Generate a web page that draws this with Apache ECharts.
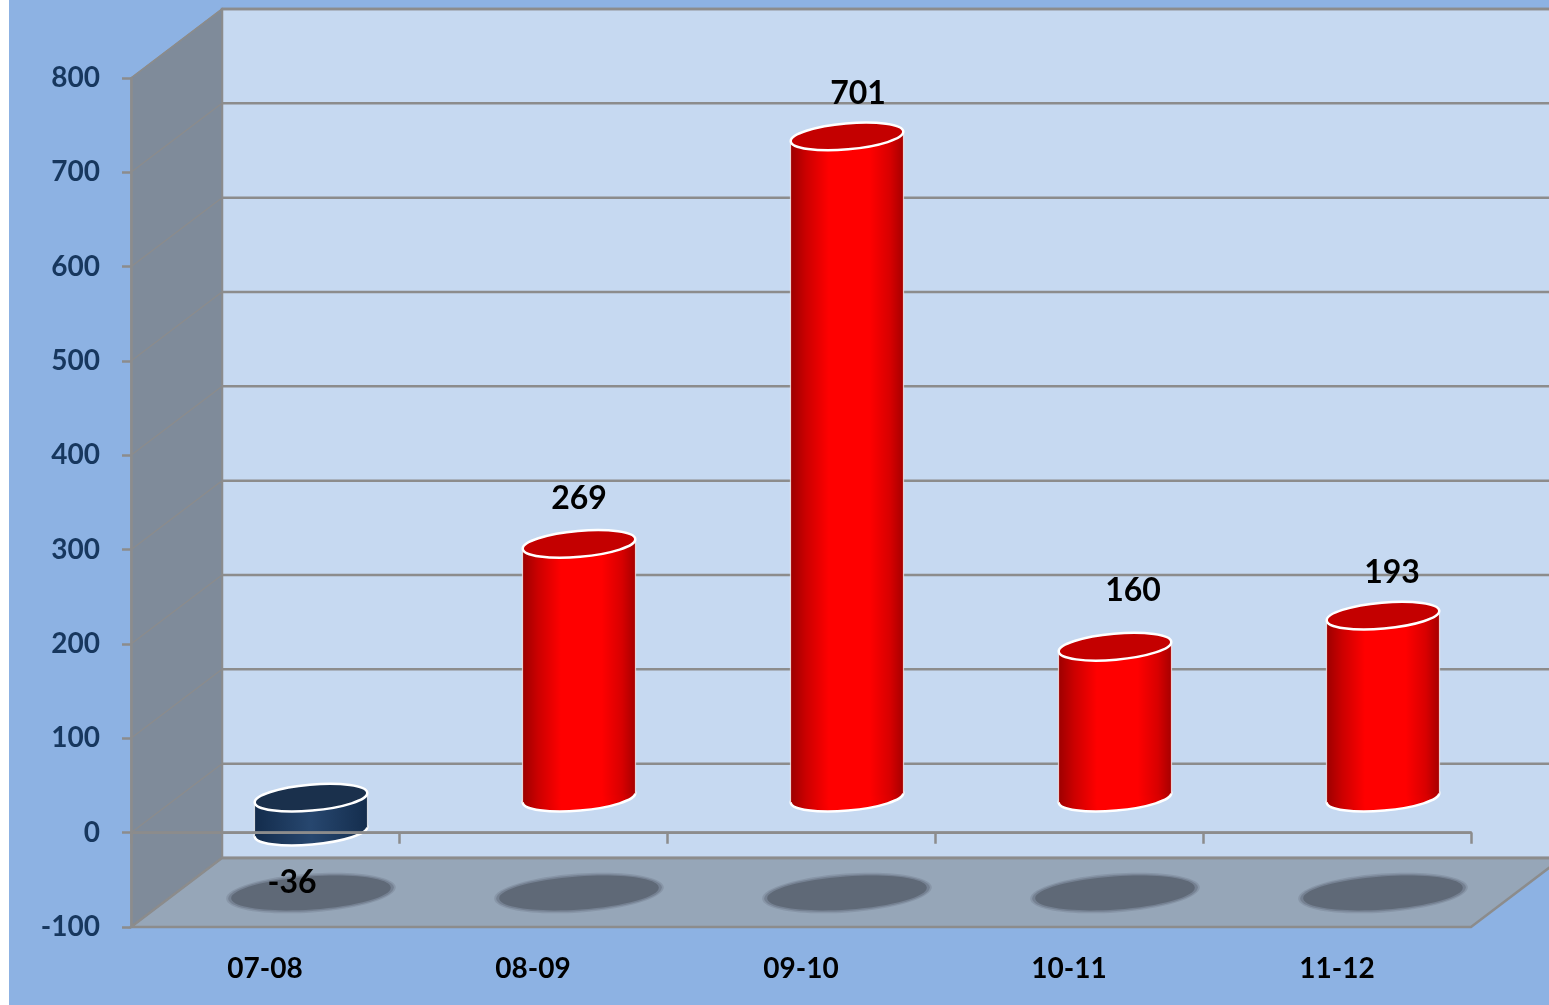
<!DOCTYPE html>
<html>
<head>
<meta charset="utf-8">
<style>
html,body{margin:0;padding:0;background:#fff;overflow:hidden}
#c{position:absolute;left:9px;top:0;width:1540px;height:1005px;filter:blur(0.6px)}
</style>
<script src="https://cdn.jsdelivr.net/npm/echarts@6/dist/echarts.min.js"></script>
</head>
<body>
<div id="c"></div>
<script>
const categories = ['07-08', '08-09', '09-10', '10-11', '11-12'];
const values = [-36, 269, 701, 160, 193];
const yTicks = [-100, 0, 100, 200, 300, 400, 500, 600, 700, 800];

// label nudges relative to the top (or bottom, when negative) of each cylinder
const labelDx = [-19, 0, 11, 18, 9];
const labelDy = [51, -45, -43, -56, -43];

const DEPTH_X = 91, DEPTH_Y = 69, MID_X = 46, MID_Y = 35;
const RX = 56.5, RY = 13, TILT = 5 * Math.PI / 180, EDGE = 4.5;
const SHADOW_TILT = 4 * Math.PI / 180;
const LINE = '#8c8c8c';

const chart = echarts.init(document.getElementById('c'));

function hGrad(stops) {
  return new echarts.graphic.LinearGradient(0, 0, 1, 0,
    stops.map(s => ({offset: s[0], color: s[1]})));
}
const RED = {
  side: [[0, '#9c0000'], [0.14, '#cc0000'], [0.34, '#ff0000'], [0.7, '#ff0000'], [0.88, '#d80000'], [1, '#a60000']],
  top: '#c40000'
};
const NAVY = {
  side: [[0, '#132c4c'], [0.5, '#27476f'], [1, '#142d4d']],
  top: '#1a304c'
};

function renderRoom(params, api) {
  const cs = params.coordSys;
  const L = cs.x, R = cs.x + cs.width, T = cs.y, B = cs.y + cs.height;
  const dx = DEPTH_X, dy = DEPTH_Y;
  const kids = [];
  kids.push({type: 'polygon', shape: {points: [[L + dx, T - dy], [R + dx, T - dy], [R + dx, B - dy], [L + dx, B - dy]]},
    style: {fill: '#c6d9f1', stroke: LINE, lineWidth: 2.5}});
  kids.push({type: 'polygon', shape: {points: [[L, T], [L + dx, T - dy], [L + dx, B - dy], [L, B]]},
    style: {fill: '#7f8b9a', stroke: LINE, lineWidth: 1.5}});
  kids.push({type: 'polygon', shape: {points: [[L, B], [L + dx, B - dy], [R + dx, B - dy], [R, B]]},
    style: {fill: '#96a6b8', stroke: LINE, lineWidth: 2.5}});
  yTicks.forEach(t => {
    const y = api.coord([0, t])[1];
    kids.push({type: 'line', shape: {x1: L + dx, y1: y - dy, x2: R + dx, y2: y - dy},
      style: {stroke: LINE, lineWidth: 2.5}});
    kids.push({type: 'line', shape: {x1: L, y1: y, x2: L + dx, y2: y - dy},
      style: {stroke: LINE, lineWidth: 1.2}});
  });
  return {type: 'group', children: kids};
}

function renderCylinder(params, api) {
  const i = api.value(0), v = api.value(1);
  const cx = api.coord([i, 0])[0] + MID_X;
  const yTop = api.coord([i, Math.max(v, 0)])[1] - MID_Y;
  const yBase = api.coord([i, Math.min(v, 0)])[1] - MID_Y;
  const yFloor = api.coord([i, yTicks[0]])[1] - MID_Y + 1;
  const pal = v < 0 ? NAVY : RED;
  const ell = (y, rx, ry, style, tilt) => ({type: 'ellipse', x: cx, y: y, rotation: tilt === undefined ? TILT : tilt,
    shape: {cx: 0, cy: 0, rx: rx, ry: ry}, style: style});
  return {type: 'group', children: [
    ell(yFloor, 85, 19.5, {fill: 'rgba(95,105,119,0.25)'}, SHADOW_TILT),
    ell(yFloor, 83, 18, {fill: 'rgba(95,105,119,0.45)'}, SHADOW_TILT),
    ell(yFloor, 80, 16.5, {fill: '#5f6977'}, SHADOW_TILT),
    ell(yBase, RX, RY, {fill: hGrad(pal.side), stroke: '#fff', lineWidth: 2.5}),
    {type: 'polygon', shape: {points: [[cx - RX, yTop + EDGE], [cx + RX, yTop - EDGE], [cx + RX, yBase - EDGE], [cx - RX, yBase + EDGE]]},
      style: {fill: hGrad(pal.side)}},
    {type: 'line', shape: {x1: cx - RX, y1: yTop + EDGE, x2: cx - RX, y2: yBase + EDGE}, style: {stroke: 'rgba(255,255,255,0.7)', lineWidth: 1.2}},
    {type: 'line', shape: {x1: cx + RX, y1: yTop - EDGE, x2: cx + RX, y2: yBase - EDGE}, style: {stroke: 'rgba(255,255,255,0.7)', lineWidth: 1.2}},
    ell(yTop, RX, RY, {fill: pal.top, stroke: '#fff', lineWidth: 2.5})
  ]};
}

function renderZeroLine(params, api) {
  const cs = params.coordSys;
  const y = api.coord([0, 0])[1];
  return {type: 'line', shape: {x1: cs.x, y1: y, x2: cs.x + cs.width, y2: y},
    style: {stroke: LINE, lineWidth: 2.5}};
}

function renderLabel(params, api) {
  const i = api.value(0), v = api.value(1);
  const cx = api.coord([i, 0])[0] + MID_X;
  const y = api.coord([i, v])[1] - MID_Y;
  return {type: 'text', x: cx + labelDx[i], y: y + labelDy[i],
    style: {text: String(v), fill: '#000', font: 'bold 32px Lato', align: 'center', verticalAlign: 'middle'}};
}

const points = categories.map((c, i) => [i, values[i]]);

chart.setOption({
  animation: false,
  backgroundColor: '#8db2e3',
  grid: {left: 122, right: 78, top: 78, bottom: 78, containLabel: false, outerBoundsMode: 'none'},
  xAxis: {
    type: 'category',
    data: categories,
    z: 5,
    axisLine: {onZero: true, lineStyle: {color: LINE, width: 2.5}},
    axisTick: {show: true, length: 11, lineStyle: {color: LINE, width: 2.5}},
    axisLabel: {margin: 28, interval: 0, color: '#000', fontFamily: 'Lato', fontWeight: 'bold', fontSize: 28}
  },
  yAxis: {
    type: 'value', min: -100, max: 800, interval: 100,
    splitLine: {show: false},
    axisLine: {show: true, onZero: false, lineStyle: {color: LINE, width: 2.5}},
    axisTick: {show: true, length: 9, lineStyle: {color: LINE, width: 2.5}},
    axisLabel: {margin: 31, padding: [4, 0, 0, 0], color: '#17375e', fontFamily: 'Lato', fontWeight: 'bold', fontSize: 28}
  },
  series: [
    {type: 'custom', z: -1, silent: true, clip: false, renderItem: renderRoom, data: [[0, 0]]},
    {type: 'custom', z: 2, silent: true, clip: false, renderItem: renderCylinder, data: points},
    {type: 'custom', z: 4, silent: true, clip: false, renderItem: renderZeroLine, data: [[0, 0]]},
    {type: 'custom', z: 10, silent: true, clip: false, renderItem: renderLabel, data: points}
  ]
});
</script>
</body>
</html>
